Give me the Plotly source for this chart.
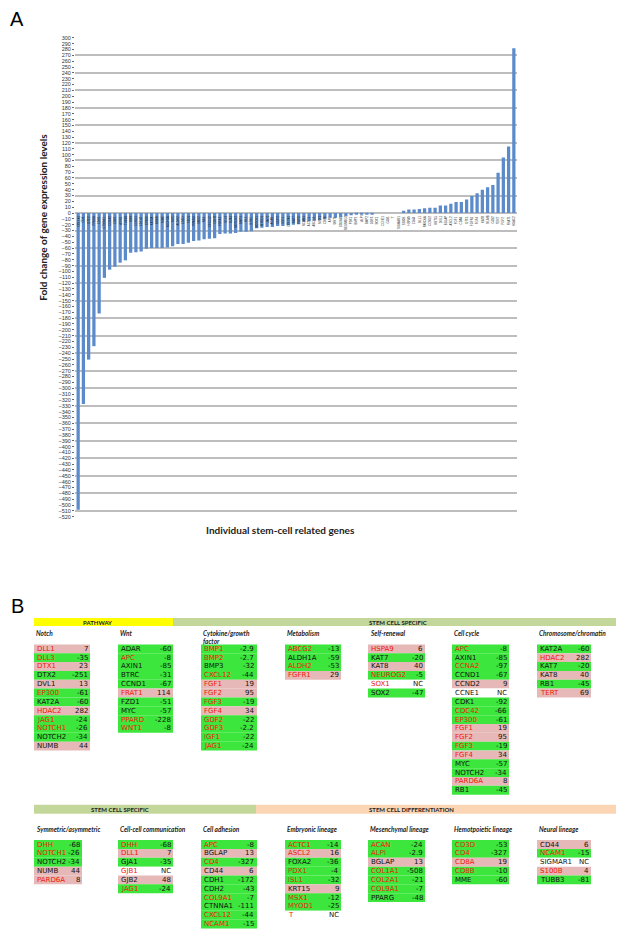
import plotly.graph_objects as go

# page body has an 8px default margin; figure is sized to fit the 624x938 window
PAGE_W, PAGE_H, BODY = 624, 938, 8
W, H = PAGE_W - BODY, PAGE_H - BODY

# ---------------- data ----------------
genes = ["DLL1", "DLL3", "DTX1", "DTX2", "DVL1", "EP300", "KAT2A", "HDAC2", "JAG1", "NOTCH1",
         "NOTCH2", "NUMB", "ADAR", "APC", "AXIN1", "BTRC", "CCND1", "FRAT1", "FZD1", "MYC",
         "PPARD", "WNT1", "BMP1", "BMP2", "BMP3", "CXCL12", "FGF1", "FGF2", "FGF3", "FGF4",
         "GDF2", "GDF3", "IGF1", "ABCG2", "ALDH1A", "ALDH2", "FGFR1", "HSPA9", "KAT7", "KAT8",
         "NEUROG2", "SOX1", "SOX2", "CCNA2", "CCND2", "CCNE1", "CDK1", "CDC42", "PARD6A", "RB1",
         "TERT", "DHH", "GJA1", "GJB1", "GJB2", "BGLAP", "CD4", "CD44", "CDH1", "CDH2",
         "COL9A1", "CTNNA1", "NCAM1", "ACTC1", "ASCL2", "FOXA2", "PDX1", "ISL1", "KRT15", "MSX1",
         "MYOD1", "T", "ACAN", "ALPI", "COL1A1", "COL2A1", "PPARG", "CD3D", "CD8A", "CD8B",
         "MME", "SIGMAR1", "S100B", "TUBB3"]
fold_change = [7, -35, 23, -251, 13, -61, -60, 282, -24, -26,
               -34, 44, -60, -8, -85, -31, -67, 114, -51, -57,
               -228, -8, -2.9, -2.7, -32, -44, 19, 95, -19, 34,
               -22, -2.2, -22, -13, -59, -53, 29, 6, -20, 40,
               -5, None, -47, -97, 9, None, -92, -66, 8, -45,
               69, -68, -35, None, 48, 13, -327, 6, -172, -43,
               -7, -111, -15, -14, 16, -36, -4, -32, 9, -12,
               -25, None, -24, -2.9, -508, -21, -48, -53, 19, -10,
               -60, None, 4, -81]
red_genes = ["DLL1", "DLL3", "DTX1", "EP300", "HDAC2", "JAG1", "NOTCH1", "APC", "FRAT1", "PPARD",
             "WNT1", "BMP1", "BMP2", "CXCL12", "FGF1", "FGF2", "FGF3", "FGF4", "GDF2", "GDF3",
             "IGF1", "ABCG2", "ALDH2", "FGFR1", "HSPA9", "NEUROG2", "SOX1", "CCNA2", "CDC42",
             "PARD6A", "TERT", "DHH", "GJB1", "CD4", "COL9A1", "NCAM1", "ACTC1", "ASCL2", "PDX1",
             "ISL1", "MSX1", "MYOD1", "T", "ACAN", "ALPI", "COL1A1", "COL2A1", "CD3D", "CD8A",
             "CD8B", "S100B"]

notch = ["DLL1", "DLL3", "DTX1", "DTX2", "DVL1", "EP300", "KAT2A", "HDAC2", "JAG1", "NOTCH1", "NOTCH2", "NUMB"]
wnt = ["ADAR", "APC", "AXIN1", "BTRC", "CCND1", "FRAT1", "FZD1", "MYC", "PPARD", "WNT1"]
cytokine = ["BMP1", "BMP2", "BMP3", "CXCL12", "FGF1", "FGF2", "FGF3", "FGF4", "GDF2", "GDF3", "IGF1", "JAG1"]
metabolism = ["ABCG2", "ALDH1A", "ALDH2", "FGFR1"]
self_renewal = ["HSPA9", "KAT7", "KAT8", "NEUROG2", "SOX1", "SOX2"]
cell_cycle = ["APC", "AXIN1", "CCNA2", "CCND1", "CCND2", "CCNE1", "CDK1", "CDC42", "EP300", "FGF1",
              "FGF2", "FGF3", "FGF4", "MYC", "NOTCH2", "PARD6A", "RB1"]
chromatin = ["KAT2A", "HDAC2", "KAT7", "KAT8", "RB1", "TERT"]
symmetric = ["DHH", "NOTCH1", "NOTCH2", "NUMB", "PARD6A"]
cell_comm = ["DHH", "DLL1", "GJA1", "GJB1", "GJB2", "JAG1"]
adhesion = ["APC", "BGLAP", "CD4", "CD44", "CDH1", "CDH2", "COL9A1", "CTNNA1", "CXCL12", "NCAM1"]
embryonic = ["ACTC1", "ASCL2", "FOXA2", "PDX1", "ISL1", "KRT15", "MSX1", "MYOD1", "T"]
mesenchymal = ["ACAN", "ALPI", "BGLAP", "COL1A1", "COL2A1", "COL9A1", "PPARG"]
hematopoietic = ["CD3D", "CD4", "CD8A", "CD8B", "MME"]
neural = ["CD44", "NCAM1", "SIGMAR1", "S100B", "TUBB3"]

row1_titles = ["Notch", "Wnt", "Cytokine/growth<br>factor", "Metabolism", "Self-renewal", "Cell cycle",
               "Chromosome/chromatin"]
row2_titles = ["Symmetric/asymmetric", "Cell-cell communication", "Cell adhesion", "Embryonic lineage",
               "Mesenchymal lineage", "Hemotpoietic lineage", "Neural lineage"]
row1_groups = [notch, wnt, cytokine, metabolism, self_renewal, cell_cycle, chromatin]
row2_groups = [symmetric, cell_comm, adhesion, embryonic, mesenchymal, hematopoietic, neural]

# ---------------- helpers (page pixel -> paper) ----------------
def px(x):
    return (x - BODY) / W

def py(y):
    return 1 - (y - BODY) / H

value_of = dict(zip(genes, fold_change))

order = sorted(range(len(genes)), key=lambda i: (fold_change[i] if fold_change[i] is not None else 0))
bar_genes = [genes[i] for i in order]
bar_vals = [(fold_change[i] if fold_change[i] is not None else 0) for i in order]

fig = go.Figure()
fig.add_trace(go.Bar(x=bar_genes, y=bar_vals, marker=dict(color="#5B8BCB", line=dict(width=0)),
                     showlegend=False, hoverinfo="x+y"))
fig.add_trace(go.Scatter(x=[bar_genes[0]], y=[0], yaxis="y2", mode="markers",
                         marker=dict(opacity=0), showlegend=False, hoverinfo="skip"))

YR = [-520, 300]
annotations = []
shapes = []

# gene labels just below the zero line
for g in bar_genes:
    annotations.append(dict(x=g, y=0, xref="x", yref="y", text=g, showarrow=False, textangle=-90,
                            yanchor="top", xanchor="center", yshift=-1,
                            font=dict(size=2.8, color="#222", family="Liberation Sans")))

def label(x, y, text, size, color="#222", family="Lato", xanchor="center", angle=0):
    annotations.append(dict(x=px(x), y=py(y), xref="paper", yref="paper", text=text, showarrow=False,
                            xanchor=xanchor, yanchor="middle", textangle=angle,
                            font=dict(size=size, family=family, color=color)))

label(43, 216, "<b>Fold change of gene expression levels</b>", 10, angle=-90)
label(280, 530, "<b>Individual stem-cell related genes</b>", 10)
label(17, 16, "A", 20, "#000", "Liberation Sans")
label(17, 607, "B", 20, "#000", "Liberation Sans")

# ---------------- panel B ----------------
GREEN = "#3CE63C"
PINK = "#E6B8B7"

def band(x0, x1, y0, y1, color):
    shapes.append(dict(type="rect", xref="paper", yref="paper", x0=px(x0), x1=px(x1), y0=py(y1), y1=py(y0),
                       fillcolor=color, line=dict(width=0), layer="above"))

band(34, 173, 619, 627, "#FFFF00")
band(173, 618, 619, 627, "#C4D79B")
label(97, 623, "<b>PATHWAY</b>", 6)
label(398, 623, "<b>STEM CELL SPECIFIC</b>", 6)
band(34, 256, 807, 816, "#C4D79B")
band(256, 618, 807, 816, "#FCD5B4")
label(120, 811.5, "<b>STEM CELL SPECIFIC</b>", 6)
label(411, 811.5, "<b>STEM CELL DIFFERENTIATION</b>", 6)

col_x = [34, 118, 201, 285, 368, 452, 537]
row1_w = [56, 55, 56, 56, 57, 57, 54]
row2_w = [48, 55, 56, 56, 57, 57, 54]
RH = 8.9

def draw_row(titles, groups, widths, title_y, cells_y):
    for x0, w, t, grp in zip(col_x, widths, titles, groups):
        annotations.append(dict(x=px(x0), y=py(title_y - 4), xref="paper", yref="paper",
                                text="<b><i>" + t + "</i></b>", showarrow=False, xanchor="left",
                                yanchor="top", align="left",
                                font=dict(size=6.5, family="Lato", color="#222")))
        for k, g in enumerate(grp):
            v = value_of[g]
            y0 = cells_y + k * RH
            col = "#FFFFFF" if v is None else (GREEN if v < 0 else PINK)
            band(x0, x0 + w, y0, y0 + RH, col)
            gcol = "#F0190A" if g in red_genes else "#111"
            label(x0 + 0.5, y0 + RH / 2, g, 7, gcol, "DejaVu Sans", "left")
            vt = "NC" if v is None else f"{v:g}"
            label(x0 + w - 0.5, y0 + RH / 2, vt, 7, "#111", "DejaVu Sans", "right")

draw_row(row1_titles, row1_groups, row1_w, 633, 645.5)
draw_row(row2_titles, row2_groups, row2_w, 830, 842.5)

fig.update_layout(
    width=W, height=H, margin=dict(l=0, r=0, t=0, b=0),
    paper_bgcolor="white", plot_bgcolor="rgba(0,0,0,0)",
    bargap=0.38,
    xaxis=dict(domain=[px(75), px(517)], showticklabels=False, showgrid=False, zeroline=False,
               showline=False, ticks="", range=[-0.6, len(genes) - 0.4]),
    yaxis=dict(domain=[py(517), py(35)], range=YR, tickmode="linear", tick0=0, dtick=10,
               showgrid=False, zeroline=False, showline=False, ticks="outside", ticklen=2,
               tickcolor="#666", tickfont=dict(size=5.5, color="#333", family="Liberation Sans")),
    yaxis2=dict(overlaying="y", range=YR, tickmode="linear", tick0=0, dtick=30, showgrid=True,
                gridcolor="#BDBDBD", gridwidth=2, showticklabels=False, zeroline=False, ticks="",
                side="left"),
    annotations=annotations,
    shapes=shapes,
    font=dict(family="Liberation Sans"),
)

fig.write_html("out.html")
